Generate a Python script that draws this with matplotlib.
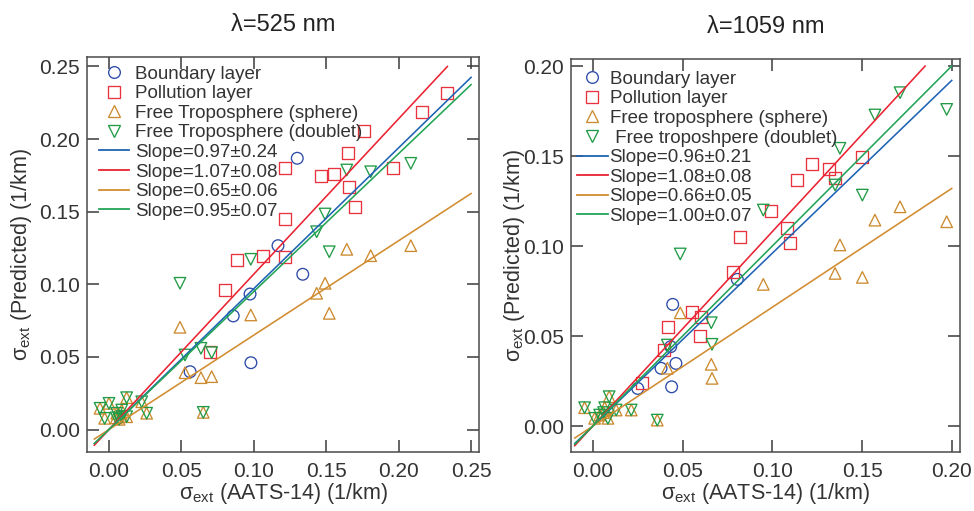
import matplotlib
matplotlib.use('Agg')
import matplotlib.pyplot as plt
from matplotlib.lines import Line2D
import numpy as np

plt.rcParams['font.family'] = ['Liberation Sans', 'DejaVu Sans']
plt.rcParams['mathtext.fontset'] = 'custom'
plt.rcParams['mathtext.rm'] = 'Liberation Sans'

# colours: boundary, pollution, sphere, doublet
MARK_C = ['#2c4aa8', '#e8333f', '#cc8a2e', '#1f9b45']
LINE_C = ['#1f63b4', '#ea2232', '#d28c30', '#22a558']
TXT_C = '#333333'

# ---- 525 nm ----
bl525_x = [0.056, 0.0858, 0.0974, 0.098, 0.1167, 0.130, 0.1338]
bl525_y = [0.0398, 0.0782, 0.0933, 0.046, 0.1266, 0.1868, 0.1069]
pl525_x = [0.0698, 0.0801, 0.0882, 0.1066, 0.1215, 0.1215, 0.1215, 0.1462,
           0.1554, 0.1653, 0.166, 0.170, 0.1761, 0.1963, 0.2164, 0.2332]
pl525_y = [0.0536, 0.0961, 0.1167, 0.1195, 0.1186, 0.145, 0.180, 0.1748,
           0.1758, 0.1902, 0.1668, 0.153, 0.2058, 0.1799, 0.2189, 0.2315]
ft525_x = [-0.0062, -0.003, 0.000, 0.005, 0.0053, 0.007, 0.0088, 0.009,
           0.0122, 0.0122, 0.0226, 0.026, 0.049, 0.0525, 0.0635, 0.0651,
           0.0709, 0.0979, 0.1434, 0.1492, 0.1521, 0.1642, 0.1807, 0.2084]
sph525_y = [0.0146, 0.0077, 0.018, 0.008, 0.0112, 0.007, 0.0134, 0.009,
            0.0219, 0.0088, 0.0191, 0.0112, 0.0704, 0.0391, 0.0357, 0.0118,
            0.0364, 0.0789, 0.0938, 0.1007, 0.080, 0.1241, 0.1197, 0.1266]
dbl525_y = [0.0146, 0.0077, 0.018, 0.008, 0.0112, 0.007, 0.0134, 0.009,
            0.0219, 0.0088, 0.0191, 0.0112, 0.1007, 0.0513, 0.0559, 0.0118,
            0.0529, 0.1172, 0.1362, 0.1484, 0.1224, 0.1787, 0.1775, 0.1833]
slope525 = [0.97, 1.07, 0.65, 0.95]
err525 = [0.24, 0.08, 0.06, 0.07]

# ---- 1059 nm ----
bl1059_x = [0.025, 0.038, 0.0434, 0.0439, 0.0445, 0.0463, 0.0805]
bl1059_y = [0.0209, 0.0321, 0.0441, 0.0218, 0.0676, 0.0348, 0.0815]
pl1059_x = [0.0275, 0.0396, 0.0417, 0.0551, 0.0597, 0.0601, 0.0783, 0.082,
            0.0991, 0.108, 0.1099, 0.1139, 0.122, 0.1318, 0.135, 0.1498]
pl1059_y = [0.0237, 0.0422, 0.0552, 0.0632, 0.05, 0.0607, 0.0857, 0.1048,
            0.1196, 0.1098, 0.1018, 0.1367, 0.1456, 0.1426, 0.138, 0.1496]
ft1059_x = [-0.0046, 0.001, 0.0038, 0.006, 0.0066, 0.0084, 0.0091, 0.013,
            0.0214, 0.0359, 0.0415, 0.0487, 0.066, 0.0664, 0.095, 0.135,
            0.1377, 0.1502, 0.1572, 0.1712, 0.1972]
sph1059_y = [0.0102, 0.0043, 0.0061, 0.0075, 0.0102, 0.0043, 0.0163, 0.0089,
             0.0089, 0.0033, 0.0321, 0.0629, 0.0343, 0.0265, 0.0787, 0.0848,
             0.1006, 0.0826, 0.1144, 0.1218, 0.1135]
dbl1059_y = [0.0102, 0.0043, 0.0061, 0.0075, 0.0102, 0.0043, 0.0163, 0.0089,
             0.0089, 0.0033, 0.045, 0.0956, 0.0574, 0.0454, 0.12, 0.1339,
             0.1543, 0.1283, 0.1728, 0.1852, 0.1759]
slope1059 = [0.96, 1.08, 0.66, 1.00]
err1059 = [0.21, 0.08, 0.05, 0.07]

labels525 = ['Boundary layer', 'Pollution layer', 'Free Troposphere (sphere)',
             'Free Troposphere (doublet)']
labels1059 = ['Boundary layer', 'Pollution layer', 'Free troposphere (sphere)',
              ' Free troposhpere (doublet)']
MARKERS = ['o', 's', '^', 'v']
MS = [8.4, 8.6, 8.3, 8.3]


def draw_panel(ax, pts, slopes, errs, labels, xlim, ylim, ticks, title,
               leg_xy, hlen, hpad):
    for (x, y), m, c, ms in zip(pts, MARKERS, MARK_C, MS):
        ax.scatter(x, y, s=ms ** 2, marker=m, facecolors='none',
                   edgecolors=c, linewidths=0.95, zorder=3)
    # fit lines through origin, cut at top tick
    xtop, ytop = ticks[-1], ticks[-1]
    for k, c in zip(slopes, LINE_C):
        x1 = min(xtop, ytop / k)
        xx = np.array([-0.0101, x1])
        ax.plot(xx, k * xx, color=c, lw=1.15, zorder=4)

    ax.set_xlim(*xlim)
    ax.set_ylim(*ylim)
    ax.set_xticks(ticks)
    ax.set_yticks(ticks)
    ax.set_xticklabels(['%.2f' % t for t in ticks])
    ax.set_yticklabels(['%.2f' % t for t in ticks])
    ax.tick_params(direction='in', length=8.8, width=1.1, top=True,
                   right=True, labelsize=15, colors='#3a3a3a',
                   labelcolor=TXT_C)
    ax.tick_params(axis='x', pad=7.5)
    ax.tick_params(axis='y', pad=5)
    for sp in ax.spines.values():
        sp.set_color('#4a4a4a')
        sp.set_linewidth(1.1)

    ax.set_title(title, fontsize=17, pad=19, color='#222222')
    ax.set_xlabel('σ$_{\\mathregular{ext}}$ (AATS-14) (1/km)',
                  fontsize=15.5, color=TXT_C, labelpad=0)
    ax.set_ylabel('σ$_{\\mathregular{ext}}$ (Predicted) (1/km)',
                  fontsize=15.5, color=TXT_C)

    hs = [Line2D([], [], ls='none', marker=m, mfc='none', mec=c, mew=0.95,
                 ms=ms) for m, c, ms in zip(MARKERS, MARK_C, MS)]
    hs += [Line2D([], [], color=c, lw=1.3) for c in LINE_C]
    labs = list(labels) + ['Slope=%.2f±%.2f' % (k, e)
                           for k, e in zip(slopes, errs)]
    leg = ax.legend(hs, labs, loc='upper left', bbox_to_anchor=leg_xy,
                    frameon=False, fontsize=13.5, handlelength=hlen,
                    handletextpad=hpad, labelspacing=0.13, borderpad=0,
                    borderaxespad=0)
    for t in leg.get_texts():
        t.set_color(TXT_C)


fig = plt.figure(figsize=(9.74, 5.11), dpi=100)
ax1 = fig.add_axes([0.0893, 0.1160, 0.4028, 0.7718])
ax2 = fig.add_axes([0.5862, 0.1155, 0.3994, 0.7690])

draw_panel(ax1,
           [(bl525_x, bl525_y), (pl525_x, pl525_y),
            (ft525_x, sph525_y), (ft525_x, dbl525_y)],
           slope525, err525, labels525,
           (-0.0152, 0.2557), (-0.0153, 0.2563),
           [0.0, 0.05, 0.10, 0.15, 0.20, 0.25], 'λ=525 nm',
           (0.03, 0.979), 1.6, 0.32)
draw_panel(ax2,
           [(bl1059_x, bl1059_y), (pl1059_x, pl1059_y),
            (ft1059_x, sph1059_y), (ft1059_x, dbl1059_y)],
           slope1059, err1059, labels1059,
           (-0.0122, 0.2046), (-0.0144, 0.2039),
           [0.0, 0.05, 0.10, 0.15, 0.20], 'λ=1059 nm',
           (0.015, 0.970), 1.65, 0.1)

ax1.yaxis.set_label_coords(-0.135, 0.5)
ax2.yaxis.set_label_coords(-0.113, 0.5)

fig.savefig('out.png', dpi=100)
